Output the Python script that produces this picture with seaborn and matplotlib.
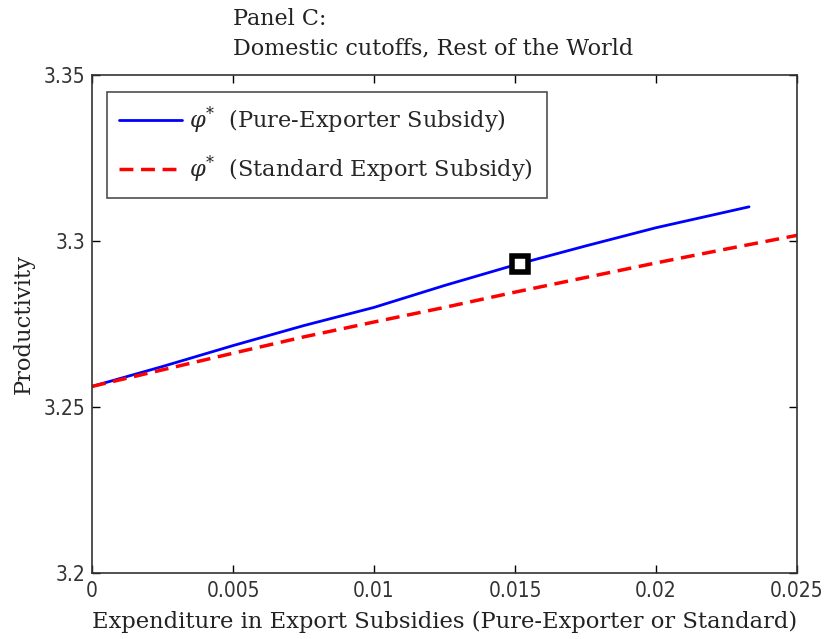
import numpy as np
import pandas as pd
import matplotlib
matplotlib.use('Agg')
import matplotlib.pyplot as plt
import seaborn as sns

sns.set_style('white')
plt.rcParams['font.family'] = ['DejaVu Serif']
plt.rcParams['mathtext.fontset'] = 'dejavuserif'

# --- data ---
pure_x = [0, 0.0025, 0.005, 0.0075, 0.01, 0.0125, 0.015, 0.0175, 0.02, 0.0233]
pure_y = [3.2562, 3.2622, 3.2685, 3.2745, 3.2800, 3.2866, 3.2928, 3.2985, 3.3040, 3.3103]
std_x = [0, 0.0025, 0.005, 0.0075, 0.01, 0.0125, 0.015, 0.0175, 0.02, 0.0225, 0.025]
std_y = [3.2562, 3.2612, 3.2662, 3.2711, 3.2756, 3.2800, 3.2846, 3.2890, 3.2934, 3.2976, 3.3017]
mark_x = [0.01518]
mark_y = [3.2932]

x_ticks = [0, 0.005, 0.01, 0.015, 0.02, 0.025]
x_labels = ['0', '0.005', '0.01', '0.015', '0.02', '0.025']
y_ticks = [3.2, 3.25, 3.3, 3.35]
y_labels = ['3.2', '3.25', '3.3', '3.35']

pure = pd.DataFrame({'x': pure_x, 'y': pure_y})
std = pd.DataFrame({'x': std_x, 'y': std_y})

fig = plt.figure(figsize=(8.24, 6.39), dpi=100)
ax = fig.add_axes([0.1117, 0.1033, 0.8555, 0.7793])

sns.lineplot(data=pure, x='x', y='y', ax=ax, color='#0000ff', lw=2,
             label=r'$\varphi^{*}$  (Pure-Exporter Subsidy) ')
sns.lineplot(data=std, x='x', y='y', ax=ax, color='#ff0000', lw=2.5,
             linestyle=(0, (4, 2.2)), label=r'$\varphi^{*}$  (Standard Export Subsidy) ')
ax.plot(mark_x, mark_y, marker='s', ms=11, mfc='white', mec='black', mew=4,
        linestyle='none', zorder=5)

ax.set_xlim(0, 0.025)
ax.set_ylim(3.2, 3.35)
ax.set_xticks(x_ticks)
ax.set_xticklabels(x_labels, family='DejaVu Sans', fontstretch='condensed',
                   fontsize=15, color='#333333')
ax.set_yticks(y_ticks)
ax.set_yticklabels(y_labels, family='DejaVu Sans', fontstretch='condensed',
                   fontsize=15, color='#333333')
ax.tick_params(direction='in', length=6, width=1, colors='black',
               top=True, right=True, bottom=True, left=True)
ax.tick_params(axis='x', pad=6, labelcolor='#333333')
ax.tick_params(axis='y', pad=5, labelcolor='#333333')
for s in ax.spines.values():
    s.set_color('#333333')
    s.set_linewidth(1.2)

ax.set_xlabel('Expenditure in Export Subsidies (Pure-Exporter or Standard)',
              fontsize=16.3, labelpad=7, color='#222222')
ax.set_ylabel('Productivity', fontsize=16.3, labelpad=6, color='#222222')
ax.set_title('Panel C:\nDomestic cutoffs, Rest of the World', fontsize=16, color='#222222',
             loc='left', x=0.2, ha='left', linespacing=1.45, pad=15)

leg = ax.legend(loc='upper left', bbox_to_anchor=(0.021, 0.966), fontsize=16.2,
                frameon=True, fancybox=False, edgecolor='#222222', handlelength=2.8,
                handletextpad=0.3, borderpad=0.55, labelspacing=0.8, borderaxespad=0)
leg.get_frame().set_linewidth(1.2)

fig.savefig('out.png', dpi=100)
